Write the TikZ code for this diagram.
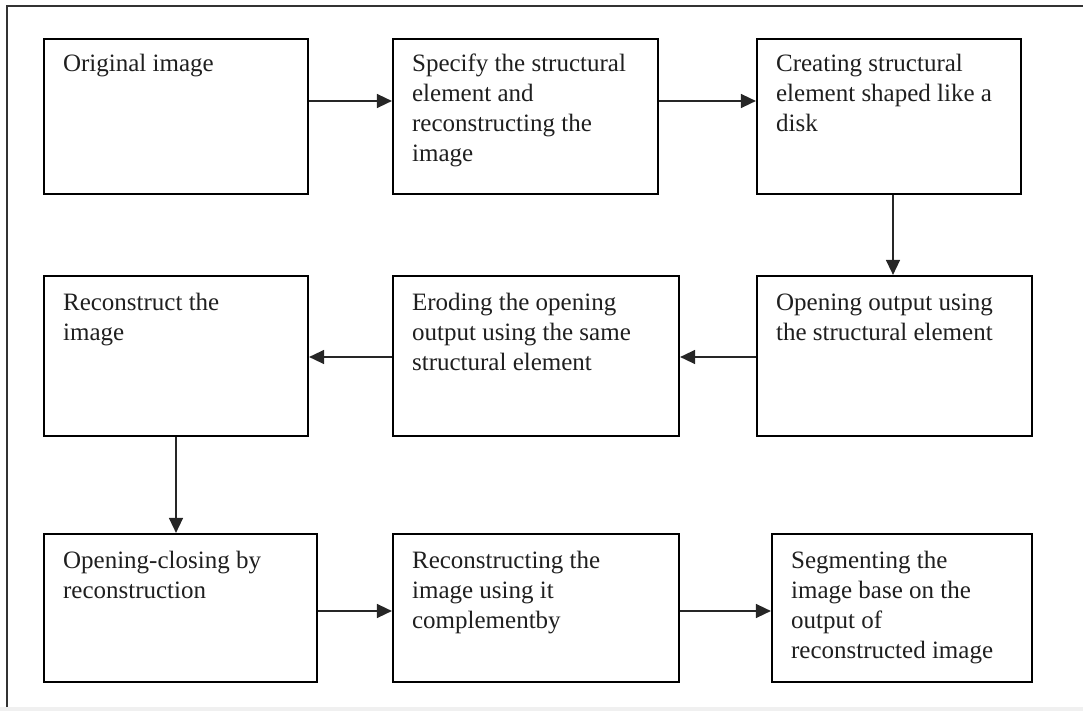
\documentclass[tikz,border=0pt]{standalone}
\usepackage{fontspec}
\setmainfont{Liberation Serif}
\usetikzlibrary{calc,arrows.meta}
\newcommand{\boxlines}[1]{\parbox[t]{300pt}{\fontsize{25}{30}\selectfont\raggedright #1}}
\begin{document}
\begin{tikzpicture}[x=1pt,y=-1pt,
  stepbox/.style={draw=black,line width=2.2pt,inner sep=0pt,rectangle},
  txt/.style={anchor=base west,inner sep=0pt,text=black!88},
  arr/.style={draw=black!85,line width=1.5pt,-{Triangle[length=15pt,width=14pt]}},
  frame/.style={draw=black!80,line width=1.2pt}]
\useasboundingbox (0,0) rectangle (1083,711);
\fill[black!6] (0,707) rectangle (1083,711);
\coordinate (ftl) at (7,6);
\coordinate (ftr) at (1083,6);
\coordinate (fbl) at (7,707);
\draw[frame] (fbl) -- (ftl) -- (ftr);
% row 1
\node[stepbox,minimum width=264pt,minimum height=155pt] (b1) at (176,116.5) {};
\node[stepbox,minimum width=265pt,minimum height=155pt] (b2) at (525.5,116.5) {};
\node[stepbox,minimum width=264pt,minimum height=155pt] (b3) at (889,116.5) {};
% row 2
\node[stepbox,minimum width=275pt,minimum height=160pt] (b4) at (894.5,356) {};
\node[stepbox,minimum width=286pt,minimum height=160pt] (b5) at (536,356) {};
\node[stepbox,minimum width=264pt,minimum height=160pt] (b6) at (176,356) {};
% row 3
\node[stepbox,minimum width=273pt,minimum height=148pt] (b7) at (180.5,608) {};
\node[stepbox,minimum width=286pt,minimum height=148pt] (b8) at (536,608) {};
\node[stepbox,minimum width=260pt,minimum height=148pt] (b9) at (902,608) {};
% texts
\node[txt] (t1) at ($(b1.north west)+(20,34)$) {\boxlines{Original image}};
\node[txt] (t2) at ($(b2.north west)+(20,34)$) {\boxlines{Specify the structural\\element and\\reconstructing the\\image}};
\node[txt] (t3) at ($(b3.north west)+(20,34)$) {\boxlines{Creating structural\\element shaped like a\\disk}};
\node[txt] (t4) at ($(b4.north west)+(20,36)$) {\boxlines{Opening output using\\the structural element}};
\node[txt] (t5) at ($(b5.north west)+(20,36)$) {\boxlines{Eroding the opening\\output using the same\\structural element}};
\node[txt] (t6) at ($(b6.north west)+(20,36)$) {\boxlines{Reconstruct the\\image}};
\node[txt] (t7) at ($(b7.north west)+(20,36)$) {\boxlines{Opening-closing by\\reconstruction}};
\node[txt] (t8) at ($(b8.north west)+(20,36)$) {\boxlines{Reconstructing the\\image using it\\complementby}};
\node[txt] (t9) at ($(b9.north west)+(20,36)$) {\boxlines{Segmenting the\\image base on the\\output of\\reconstructed image}};
% connectors
\draw[arr] ([yshift=15.5pt]b1.east) -- ([yshift=15.5pt]b2.west);
\draw[arr] ([yshift=15.5pt]b2.east) -- ([yshift=15.5pt]b3.west);
\draw[arr] ([xshift=4pt]b3.south) -- ([xshift=-1.5pt]b4.north);
\draw[arr] ([yshift=-1pt]b4.west) -- ([yshift=-1pt]b5.east);
\draw[arr] ([yshift=-1pt]b5.west) -- ([yshift=-1pt]b6.east);
\draw[arr] (b6.south) -- ([xshift=-4.5pt]b7.north);
\draw[arr] ([yshift=-3pt]b7.east) -- ([yshift=-3pt]b8.west);
\draw[arr] ([yshift=-3pt]b8.east) -- ([yshift=-3pt]b9.west);
\end{tikzpicture}
\end{document}
